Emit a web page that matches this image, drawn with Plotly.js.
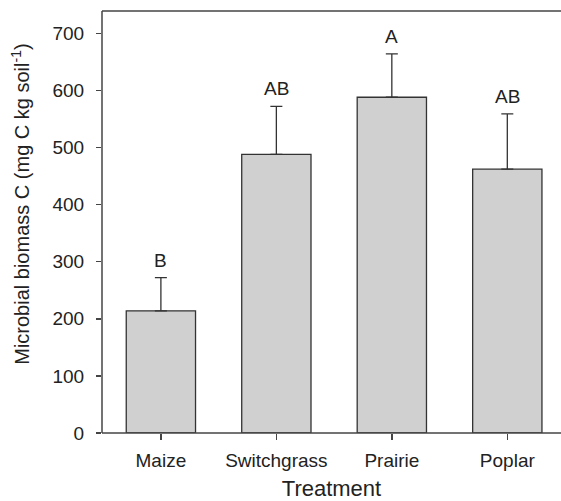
<!DOCTYPE html>
<html>
<head>
<meta charset="utf-8">
<script src="https://cdn.plot.ly/plotly-3.0.1.min.js"></script>
<style>html,body{margin:0;padding:0;background:#fff;overflow:hidden;}#chart{width:561px;height:501px;}</style>
</head>
<body>
<div id="chart"></div>
<script>
const categories = ["Maize", "Switchgrass", "Prairie", "Poplar"];
const meanValues = [214, 488, 588, 462];
const errorValues = [58, 84, 76, 97];
const letters = ["B", "AB", "A", "AB"];
const yTicks = [0, 100, 200, 300, 400, 500, 600, 700];
const xTitle = "Treatment";
const yTitle = "Microbial biomass C (mg C kg soil<sup>-1</sup>)";

const FONT = "Liberation Sans, Arial, sans-serif";
const AX = "#444";

const trace = {
  type: "bar",
  x: categories,
  y: meanValues,
  width: 0.6,
  marker: {color: "#d0d0d0", line: {color: "#333333", width: 1.3}},
  error_y: {type: "data", array: errorValues, symmetric: false, arrayminus: [0,0,0,0], visible: true, color: "#333333", thickness: 1.3, width: 6},
  hoverinfo: "skip"
};

const annotations = categories.map((c, i) => ({
  x: c, y: meanValues[i] + errorValues[i], xref: "x", yref: "y",
  text: letters[i], showarrow: false, yanchor: "bottom", yshift: 5,
  font: {family: FONT, size: 19, color: "#222"}
}));
annotations.push({
  xref: "paper", yref: "paper", x: -0.178, y: 0.5415, xanchor: "center", yanchor: "middle",
  text: yTitle, textangle: -90, showarrow: false,
  font: {family: FONT, size: 20, color: "#222"}
});

const layout = {
  width: 561, height: 501,
  margin: {l: 102, r: 0, t: 11, b: 68, pad: 0},
  paper_bgcolor: "#fff", plot_bgcolor: "#fff",
  showlegend: false,
  font: {family: FONT, color: "#222"},
  xaxis: {
    type: "category", range: [-0.51, 3.465],
    showline: false,
    ticks: "outside", ticklen: 6, tickcolor: AX, tickwidth: 1.5,
    showgrid: false, zeroline: false,
    tickfont: {family: FONT, size: 19, color: "#222"},
    ticklabelstandoff: 4,
    title: {text: xTitle, font: {family: FONT, size: 22, color: "#222"}, standoff: 10}
  },
  yaxis: {
    range: [0, 739], tickvals: yTicks, ticktext: yTicks.map(String),
    showline: false,
    ticks: "outside", ticklen: 5, tickcolor: AX, tickwidth: 1.5,
    showgrid: false, zeroline: false,
    tickfont: {family: FONT, size: 19, color: "#222"},
    ticklabelstandoff: 8
  },
  shapes: [
    {type: "line", xref: "paper", yref: "paper", x0: 0, x1: 1, y0: 1, y1: 1, line: {color: AX, width: 1.5}},
    {type: "line", xref: "paper", yref: "paper", x0: 0, x1: 1, y0: 0, y1: 0, line: {color: AX, width: 1.5}},
    {type: "line", xref: "paper", yref: "paper", x0: 0, x1: 0, y0: 0, y1: 1, line: {color: AX, width: 1.5}}
  ],
  annotations: annotations
};

Plotly.newPlot("chart", [trace], layout, {displayModeBar: false, staticPlot: true});
</script>
</body>
</html>
